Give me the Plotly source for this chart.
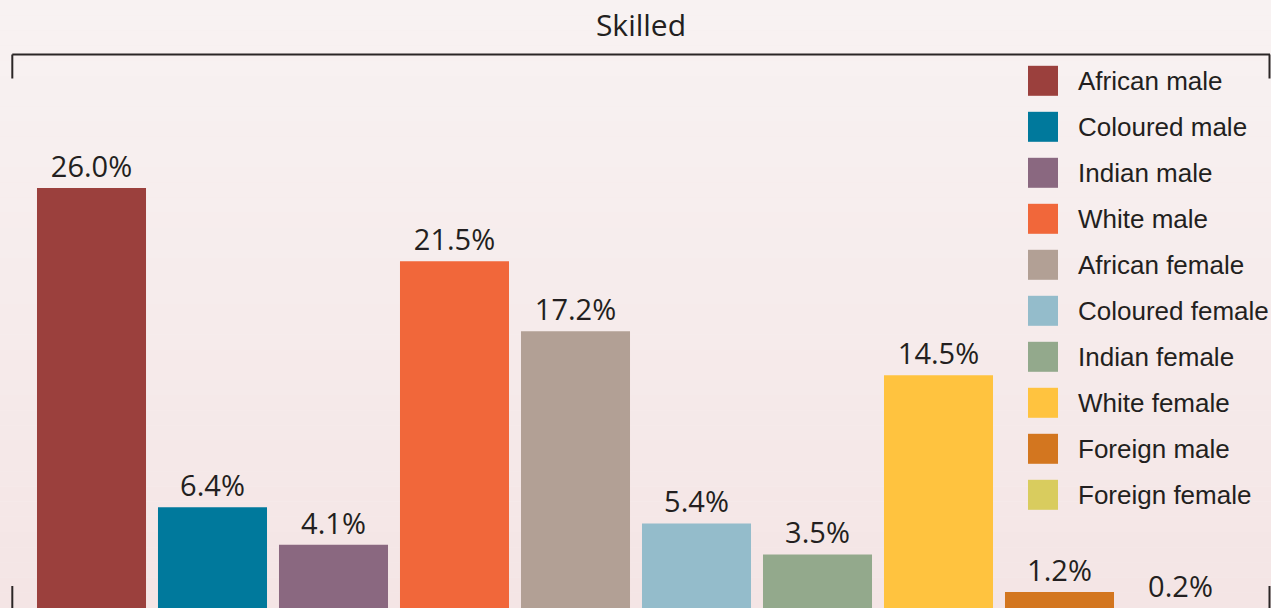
import plotly.graph_objects as go

# ---- data ----
categories = ["African male", "Coloured male", "Indian male", "White male",
              "African female", "Coloured female", "Indian female", "White female",
              "Foreign male", "Foreign female"]
values = [26.0, 6.4, 4.1, 21.5, 17.2, 5.4, 3.5, 14.5, 1.2, 0.2]
colors = ["#9B403D", "#00799C", "#8A6880", "#F1673A", "#B2A095",
          "#94BCCB", "#93A98C", "#FFC33F", "#D3761F", "#D9CC5E"]
title_text = "Skilled"

W, H = 1271, 608
TXT = "#231F20"

fig = go.Figure()
fig.add_trace(go.Bar(
    x=categories, y=values, marker=dict(color=colors, line=dict(width=0)),
    showlegend=False, hoverinfo="x+y",
))
# value labels above bars (invisible marker used only to pad the text upward)
fig.add_trace(go.Scatter(
    x=categories, y=values, mode="markers+text", text=[f"{v:.1f}%" for v in values],
    textposition="top center", cliponaxis=True, showlegend=False, hoverinfo="skip",
    marker=dict(size=4.5, color="rgba(0,0,0,0)", line=dict(width=0)),
    textfont=dict(family="Open Sans", size=29, color=TXT),
))

annotations = []
shapes = []
# background gradient
top = (0xF8, 0xF2, 0xF2)
bot = (0xF4, 0xE5, 0xE5)
n = 40
for i in range(n):
    t = i / (n - 1)
    col = tuple(round(top[k] + (bot[k] - top[k]) * t) for k in range(3))
    shapes.append(dict(type="rect", xref="paper", yref="paper", layer="below",
                       x0=0, x1=1, y0=1 - (i + 1) / n, y1=1 - i / n,
                       fillcolor="rgb(%d,%d,%d)" % col, line=dict(width=0)))

def px(x):
    return x / W

def py(y):
    return 1 - y / H

LC = "#2B2626"
# bracket lines
shapes += [
    dict(type="line", xref="paper", yref="paper", x0=px(12.3), x1=px(1270), y0=py(54.5), y1=py(54.5),
         line=dict(color=LC, width=2)),
    dict(type="line", xref="paper", yref="paper", x0=px(12.3), x1=px(12.3), y0=py(54.5), y1=py(78.5),
         line=dict(color=LC, width=2)),
    dict(type="line", xref="paper", yref="paper", x0=px(1269.5), x1=px(1269.5), y0=py(54.5), y1=py(78.5),
         line=dict(color=LC, width=2)),
    dict(type="line", xref="paper", yref="paper", x0=px(12.3), x1=px(12.3), y0=py(586), y1=py(610),
         line=dict(color=LC, width=2)),
    dict(type="line", xref="paper", yref="paper", x0=px(1269.5), x1=px(1269.5), y0=py(586), y1=py(610),
         line=dict(color=LC, width=2)),
]

# legend (manual, large swatches)
leg_x0, leg_y0, leg_step, sw = 1028, 80.8, 46.0, 30
for i, (c, col) in enumerate(zip(categories, colors)):
    cy = leg_y0 + i * leg_step
    shapes.append(dict(type="rect", xref="paper", yref="paper",
                       x0=px(leg_x0), x1=px(leg_x0 + sw), y0=py(cy + sw / 2), y1=py(cy - sw / 2),
                       fillcolor=col, line=dict(width=0)))
    annotations.append(dict(x=px(1076), y=py(cy), xref="paper", yref="paper", text=c,
                            showarrow=False, xanchor="left", yanchor="middle",
                            font=dict(family="Liberation Sans", size=26, color=TXT)))

px_per_unit = 16.29
base_px = 611.5
y_lo = (base_px - H) / px_per_unit
y_hi = y_lo + H / px_per_unit

fig.update_layout(
    width=W, height=H,
    margin=dict(l=0, r=0, t=0, b=0),
    paper_bgcolor="#F6ECEC", plot_bgcolor="rgba(0,0,0,0)",
    title=dict(text=title_text, x=641 / W, xanchor="center", y=py(25), yanchor="middle",
               font=dict(family="Open Sans", size=30, color=TXT)),
    bargap=0.099,
    xaxis=dict(domain=[31 / W, 1241 / W], range=[-0.5, len(categories) - 0.5],
               showticklabels=False, showgrid=False,
               zeroline=False, showline=False, ticks=""),
    yaxis=dict(domain=[0, 1], range=[y_lo, y_hi], showticklabels=False, showgrid=False,
               zeroline=False, showline=False, ticks=""),
    shapes=shapes, annotations=annotations,
    showlegend=False,
)

fig.write_html("out.html", config={"displayModeBar": False},
               post_script="document.body.style.margin='0';document.body.style.overflow='hidden';")
